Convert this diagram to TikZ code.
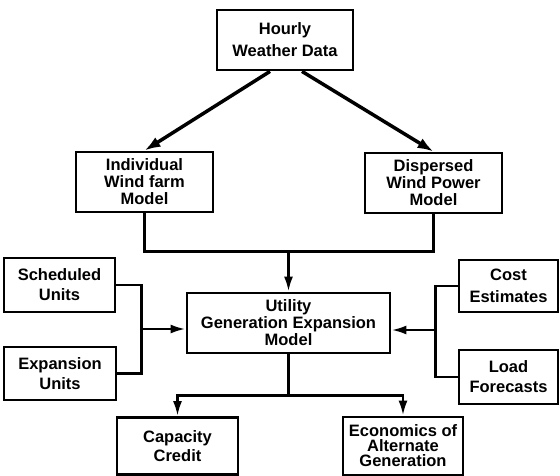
\documentclass[tikz,border=0pt]{standalone}
\usepackage{fontspec}
\setmainfont{Liberation Sans}
\usetikzlibrary{arrows.meta,calc}

\begin{document}
\begin{tikzpicture}[x=1pt,y=-1pt,
  box/.style={draw,line width=2.8pt,align=center,inner sep=0pt,
    font=\bfseries\fontsize{16.5}{20}\selectfont},
  three/.style={font=\bfseries\fontsize{16.5}{17}\selectfont},
  link/.style={line width=2.6pt},
  feed/.style={-{Latex[length=15pt,width=9pt]}}]
\useasboundingbox (0,0) rectangle (560,476);
%top
  \node[box,minimum width=136pt,minimum height=60pt,
    font=\bfseries\fontsize{16.5}{22}\selectfont] (hw) at (285,40) {Hourly\\Weather Data};
%models
  \node[box,three,minimum width=137pt,minimum height=60pt] (iw) at (144.5,182) {Individual\\Wind farm\\Model};
  \node[box,three,minimum width=137pt,minimum height=60pt] (dw) at (433.5,183) {Dispersed\\Wind Power\\Model};
%centre
  \node[box,three,minimum width=203pt,minimum height=60pt] (ug) at (288.5,323) {Utility\\Generation Expansion\\Model};
%left inputs
  \node[box,minimum width=111pt,minimum height=54pt] (su) at (59.5,285) {Scheduled\\Units};
  \node[box,minimum width=112pt,minimum height=53pt] (eu) at (60,373.5) {Expansion\\Units};
%right inputs
  \node[box,minimum width=99pt,minimum height=52pt,
    font=\bfseries\fontsize{16.5}{22}\selectfont] (ce) at (508.5,286) {Cost\\Estimates};
  \node[box,minimum width=99pt,minimum height=54pt] (lf) at (508.5,377) {Load\\Forecasts};
%outputs
  \node[box,minimum width=121pt,minimum height=57pt,
    font=\bfseries\fontsize{16.5}{19}\selectfont] (cc) at (177.5,446) {Capacity\\Credit};
  \node[box,minimum width=120pt,minimum height=58pt,
    font=\bfseries\fontsize{16.5}{15}\selectfont] (ea) at (403,446) {Economics of\\Alternate\\Generation};
%joins
  \coordinate (topjoin) at ($(ug.north)+(0,-40)$);
  \coordinate (leftjoin) at ($(ug.west)+(-44,6)$);
  \coordinate (rightjoin) at ($(ug.east)+(44,7)$);
  \coordinate (botjoin) at ($(ug.south)+(0,41)$);
%paths
  \draw[line width=3.5pt,-{Latex[length=16pt,width=11pt]}] ([xshift=-15pt]hw.south) -- (iw.north);
  \draw[line width=3.5pt,-{Latex[length=16pt,width=11pt]}] ([xshift=17pt]hw.south) -- (dw.north);
  \draw[link] (iw.south) |- (topjoin);
  \draw[link] (dw.south) |- (topjoin);
  \draw[link,feed] (topjoin) -- (ug.north);
  \draw[link] (su.east) -| (leftjoin);
  \draw[link] (eu.east) -| (leftjoin);
  \draw[link,feed] (leftjoin) -- (ug.west |- leftjoin);
  \draw[link] (ce.west) -| (rightjoin);
  \draw[link] (lf.west) -| (rightjoin);
  \draw[link,feed] (rightjoin) -- (ug.east |- rightjoin);
  \draw[link] (ug.south) -- (botjoin);
  \draw[link,feed] (botjoin) -| (cc.north);
  \draw[link,feed] (botjoin) -| (ea.north);
\end{tikzpicture}
\end{document}
